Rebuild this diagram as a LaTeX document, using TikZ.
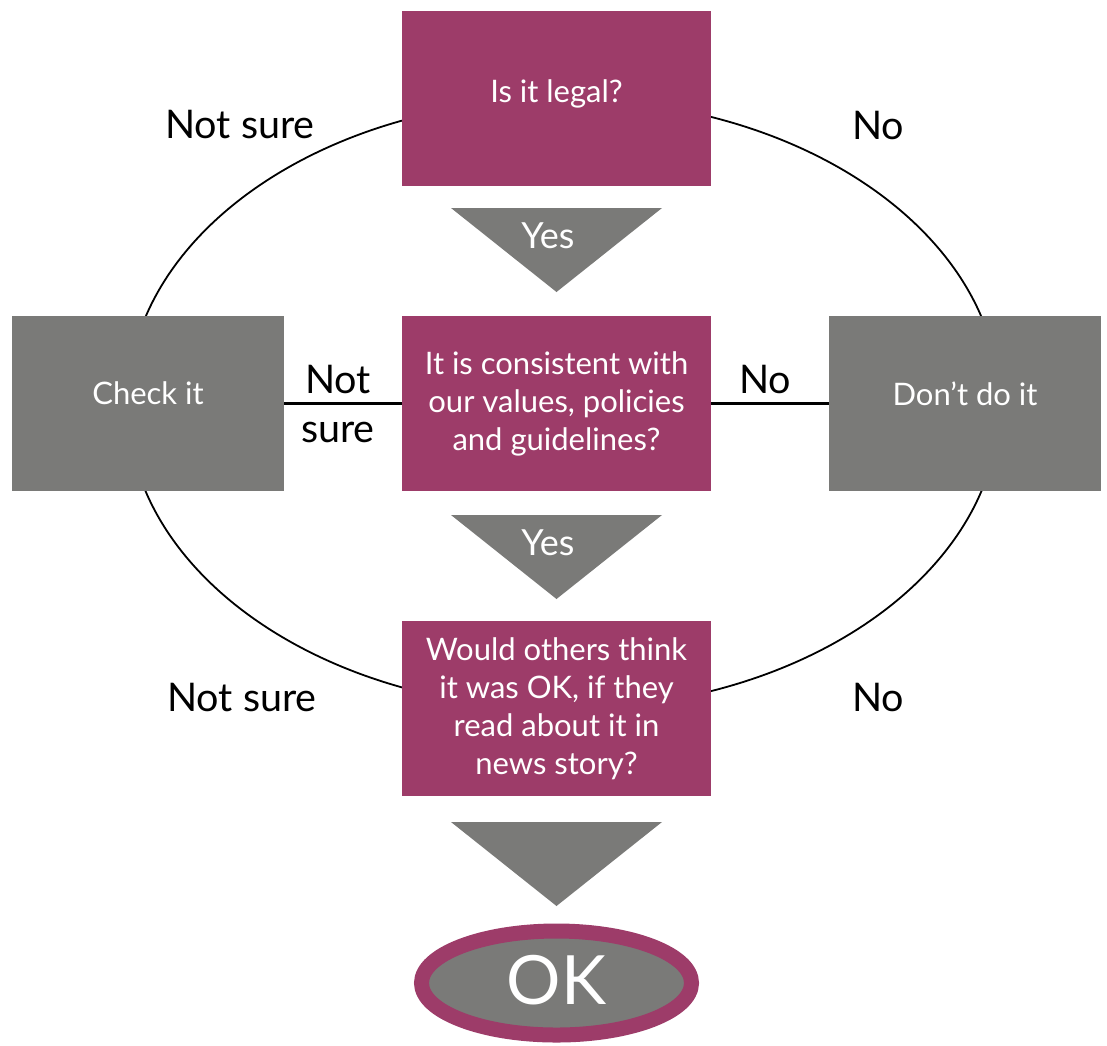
\documentclass[tikz,border=0pt]{standalone}
\usepackage{fontspec}
\setmainfont{Lato}
\definecolor{plum}{HTML}{9D3C69}
\definecolor{slate}{HTML}{7A7A78}
\begin{document}
\begin{tikzpicture}[x=1pt,y=-1pt,
  qbox/.style={fill=plum, minimum width=309pt, minimum height=175pt, inner sep=0pt, text=white, align=center, font=\fontsize{31}{38}\selectfont},
  gbox/.style={fill=slate, minimum width=272pt, minimum height=175pt, inner sep=0pt, text=white, align=center, font=\fontsize{31}{38}\selectfont},
  lab/.style={inner sep=0pt, align=center, font=\fontsize{39.5}{49}\selectfont},
  yeslab/.style={inner sep=0pt, text=white, font=\fontsize{36}{40}\selectfont},
  tri/.style={fill=slate},
  loop/.style={line width=1.8pt},
  link/.style={line width=3pt}]
\useasboundingbox (0,0) rectangle (1107,1045);
% big loop behind the boxes
\draw[loop] (563.5,404) ellipse [x radius=436pt, y radius=305pt];
% boxes
\node[qbox] (legal) at (556.5,98.5) {\raisebox{14pt}{Is it legal?}};
\node[qbox] (values) at (556.5,403.5) {\raisebox{1.5pt}{\parbox{300pt}{\centering It is consistent with\\our values, policies\\and guidelines?}}};
\node[qbox] (others) at (556.5,708.5) {\raisebox{-7pt}{\parbox{300pt}{\centering Would others think\\it was OK, if they\\read about it in\\news story?}}};
\node[gbox] (check) at (148,403.5) {\raisebox{20pt}{Check it}};
\node[gbox] (dont) at (965,403.5) {\raisebox{20pt}{Don’t do it}};
% links
\draw[link] (check.east) -- (values.west);
\draw[link] (values.east) -- (dont.west);
% triangles
\fill[tri] (451,208) -- (662,208) -- (556.5,292) -- cycle;
\node[yeslab] (yes1) at (548,236) {Yes};
\fill[tri] (451,515) -- (662,515) -- (556.5,599) -- cycle;
\node[yeslab] (yes2) at (548,543) {Yes};
\fill[tri] (451,822) -- (662,822) -- (556.5,906) -- cycle;
% OK
\draw[line width=15pt, draw=plum, fill=slate] (556.5,983) ellipse [x radius=135pt, y radius=52pt];
\node[text=white, inner sep=0pt, font=\fontsize{68}{70}\selectfont] (ok) at (556.5,980) {OK};
% labels
\node[lab] (ns1) at (240,125) {Not sure};
\node[lab] (no1) at (878,125) {No};
\node[lab] (ns2) at (338,404) {Not\\sure};
\node[lab] (no2) at (765,379) {No};
\node[lab] (ns3) at (242,697) {Not sure};
\node[lab] (no3) at (878,697) {No};
\end{tikzpicture}
\end{document}
